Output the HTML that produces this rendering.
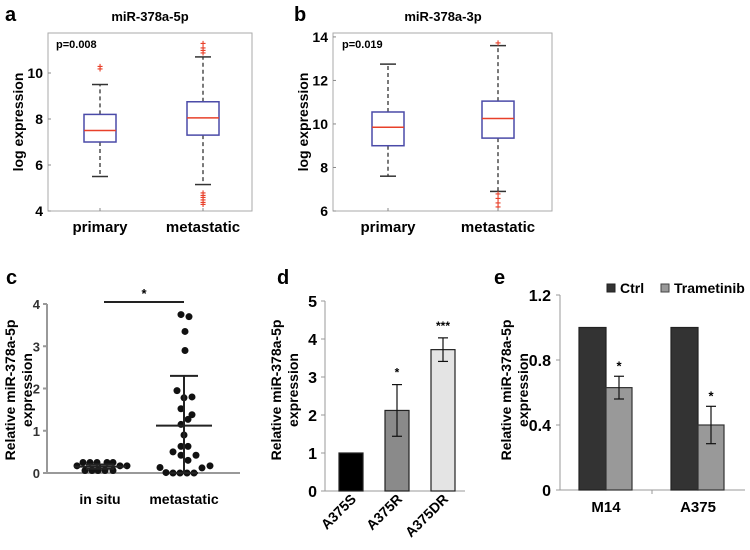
<!DOCTYPE html>
<html><head><meta charset="utf-8"><style>
body{margin:0;background:#fff;}
svg{display:block;font-family:"Liberation Sans",Arial,sans-serif;font-weight:bold;}
</style></head><body>
<svg id="fig" width="750" height="550" viewBox="0 0 750 550" xmlns="http://www.w3.org/2000/svg">
<g id="static">
<text x="5" y="21" font-size="20">a</text>
<text x="294" y="21" font-size="20">b</text>
<text x="6" y="284" font-size="20">c</text>
<text x="277" y="284" font-size="20">d</text>
<text x="494" y="284" font-size="20">e</text>
<text x="150" y="21" font-size="13" text-anchor="middle">miR-378a-5p</text>
<text x="443" y="21" font-size="13" text-anchor="middle">miR-378a-3p</text>
<text x="23" y="122" font-size="14" text-anchor="middle" transform="rotate(-90 23 122)">log expression</text>
<text x="308" y="122" font-size="14" text-anchor="middle" transform="rotate(-90 308 122)">log expression</text>
<text x="56" y="48" font-size="11">p=0.008</text>
<text x="342" y="48" font-size="11">p=0.019</text>
<g font-size="14" font-weight="normal" style="font-weight:bold">
<text transform="translate(15 390) rotate(-90)" text-anchor="middle"><tspan x="0" dy="0">Relative miR-378a-5p</tspan><tspan x="0" dy="17">expression</tspan></text>
<text transform="translate(281 390) rotate(-90)" text-anchor="middle"><tspan x="0" dy="0">Relative miR-378a-5p</tspan><tspan x="0" dy="17">expression</tspan></text>
<text transform="translate(511 390) rotate(-90)" text-anchor="middle"><tspan x="0" dy="0">Relative miR-378a-5p</tspan><tspan x="0" dy="17">expression</tspan></text>
</g>
<rect x="607" y="284" width="8" height="8" fill="#333" stroke="#222"/>
<text x="620" y="293" font-size="14">Ctrl</text>
<rect x="661" y="284" width="8" height="8" fill="#999" stroke="#444"/>
<text x="674" y="293" font-size="14">Trametinib</text>
</g>
<g id="dyn"></g>
</svg>
<script>
// Panel a data
const aCats = ["primary", "metastatic"];
const aWhiskLo = [5.5, 5.15];
const aQ1 = [7.0, 7.3];
const aMed = [7.5, 8.05];
const aQ3 = [8.2, 8.75];
const aWhiskHi = [9.5, 10.7];
const aOutliers = [[10.2, 10.3], [10.9, 11.0, 11.1, 11.3, 4.3, 4.4, 4.5, 4.6, 4.7, 4.8]];
const aTicks = [4, 6, 8, 10];
// Panel b data
const bCats = ["primary", "metastatic"];
const bWhiskLo = [7.6, 6.9];
const bQ1 = [9.0, 9.35];
const bMed = [9.85, 10.25];
const bQ3 = [10.55, 11.05];
const bWhiskHi = [12.75, 13.6];
const bOutliers = [[], [13.75, 6.2, 6.4, 6.6, 6.8]];
const bTicks = [6, 8, 10, 12, 14];
// Panel c data
const cCats = ["in situ", "metastatic"];
const cInSitu = [0.17, 0.25, 0.25, 0.25, 0.25, 0.25, 0.06, 0.06, 0.06, 0.06, 0.06, 0.17, 0.17];
const cInSituJitter = [-23, -17, -10, -3, 7, 13, -15, -8, -2, 5, 13, 20, 27];
const cMeta = [3.75, 3.7, 3.35, 2.9, 1.95, 1.78, 1.8, 1.52, 1.38, 1.27, 1.15, 0.9, 0.63, 0.63, 0.5, 0.42, 0.42, 0.3, 0.13, 0.17, 0.12, 0.01, 0.0, 0.0, 0.0, 0.0];
const cMetaJitter = [-3, 5, 1, 1, -7, 0, 8, -3, 8, 4, -3, 0, -3, 4, -11, -3, 12, 4, -24, 26, 18, -18, -11, -4, 3, 10];
const cMean = [0.15, 1.12];
const cSdHi = [0.2, 2.3];
const cSdLo = [0.1, 0.0];
const cTicks = [0, 1, 2, 3, 4];
// Panel d data
const dCats = ["A375S", "A375R", "A375DR"];
const dVals = [1, 2.12, 3.72];
const dErr = [0, 0.68, 0.31];
const dStars = ["", "*", "***"];
const dTicks = [0, 1, 2, 3, 4, 5];
// Panel e data
const eCats = ["M14", "A375"];
const eCtrl = [1, 1];
const eTram = [0.63, 0.40];
const eTramErr = [0.07, 0.115];
const eTicks = [0, 0.4, 0.8, 1.2];
const eTickLabels = ["0", "0.4", "0.8", "1.2"];

const NS = "http://www.w3.org/2000/svg";
const root = document.getElementById("dyn");
function mk(tag, attrs, txt) {
  const e = document.createElementNS(NS, tag);
  for (const k in attrs) e.setAttribute(k, attrs[k]);
  if (txt !== undefined) e.textContent = txt;
  root.appendChild(e);
  return e;
}
function lin(d0, d1, r0, r1) { return v => r0 + (v - d0) * (r1 - r0) / (d1 - d0); }

function boxPanel(p, L, R, T, B, yMin, yMax, xPos, cats, lo, q1, med, q3, hi, outs, ticks) {
  const y = lin(yMin, yMax, B, T);
  let e = mk("rect", {x: L, y: T, width: R - L, height: B - T, fill: "none", stroke: "#aaa", "stroke-width": 1});
  
  
  ticks.forEach(t => {
    let tl = mk("line", {x1: L, x2: L + 3, y1: y(t), y2: y(t), stroke: "#888"});
    
    
    let tt = mk("text", {x: L - 5, y: y(t) + 5, "font-size": 14, "text-anchor": "end"}, String(t));
    
    
  });
  cats.forEach((c, i) => {
    const x = xPos[i], hw = 16;
    let w1 = mk("line", {x1: x, x2: x, y1: y(q3), y2: y(hi), stroke: "#333", "stroke-width": 1.3, "stroke-dasharray": "4,3"});
    
    
    let w2 = mk("line", {x1: x, x2: x, y1: y(q1), y2: y(lo), stroke: "#333", "stroke-width": 1.3, "stroke-dasharray": "4,3"});
    
    
    [hi[i], lo[i]].forEach(v => {
      let cap = mk("line", {x1: x - 8, x2: x + 8, y1: y(v), y2: y(v), stroke: "#333", "stroke-width": 1.5});
      
      
    });
    w1.setAttribute("y1", y(q3[i])); w1.setAttribute("y2", y(hi[i]));
    w2.setAttribute("y1", y(q1[i])); w2.setAttribute("y2", y(lo[i]));
    let b = mk("rect", {x: x - hw, y: y(q3[i]), width: 2 * hw, height: y(q1[i]) - y(q3[i]), fill: "#fff", stroke: "#4a4aa8", "stroke-width": 1.5});
    
    
    let m = mk("line", {x1: x - hw, x2: x + hw, y1: y(med[i]), y2: y(med[i]), stroke: "#e8402a", "stroke-width": 1.5});
    
    
    outs[i].forEach(v => {
      let o = mk("text", {x: x, y: y(v) + 4, "font-size": 10, fill: "#e8402a", "text-anchor": "middle"}, "+");
      
      
    });
    let xt = mk("line", {x1: x, x2: x, y1: B, y2: B - 3, stroke: "#888"});
    
    
    let xl = mk("text", {x: x, y: B + 21, "font-size": 15, "text-anchor": "middle"}, c);
    
    
  });
}
boxPanel("panel-a", 48, 252, 33, 211, 4, 11.74, [100, 203], aCats, aWhiskLo, aQ1, aMed, aQ3, aWhiskHi, aOutliers, aTicks);
boxPanel("panel-b", 333, 552, 33, 211, 6, 14.18, [388, 498], bCats, bWhiskLo, bQ1, bMed, bQ3, bWhiskHi, bOutliers, bTicks);

// Panel c
(function () {
  const L = 47, R = 240, B = 473, y = lin(0, 4, 473, 304), xs = [100, 184];
  let a = mk("line", {x1: L, x2: L, y1: B, y2: y(4), stroke: "#999", "stroke-width": 2});
  
  
  let xa = mk("line", {x1: L, x2: R, y1: B, y2: B, stroke: "#999", "stroke-width": 2});
  
  
  cTicks.forEach(t => {
    let tl = mk("line", {x1: L - 4, x2: L, y1: y(t), y2: y(t), stroke: "#999", "stroke-width": 2});
    
    
    let tt = mk("text", {x: L - 7, y: y(t) + 5, "font-size": 13, "text-anchor": "end", fill: "#333"}, String(t));
    
    
  });
  const groups = [[cInSitu, cInSituJitter], [cMeta, cMetaJitter]];
  groups.forEach((g, i) => {
    g[0].forEach((v, j) => {
      let d = mk("circle", {cx: xs[i] + g[1][j], cy: y(v), r: 3.5, fill: "#111"});
      
      
    });
    const mw = i === 0 ? 26 : 28;
    let ml = mk("line", {x1: xs[i] - mw, x2: xs[i] + mw, y1: y(cMean[i]), y2: y(cMean[i]), stroke: "#222", "stroke-width": 2});
    
    
    let sd = mk("line", {x1: xs[i], x2: xs[i], y1: y(cSdLo[i]), y2: y(cSdHi[i]), stroke: "#222", "stroke-width": 2});
    
    
    [cSdLo[i], cSdHi[i]].forEach(v => {
      let c = mk("line", {x1: xs[i] - 14, x2: xs[i] + 14, y1: y(v), y2: y(v), stroke: "#222", "stroke-width": 2});
      
      
    });
    let xl = mk("text", {x: xs[i], y: 504, "font-size": 14, "text-anchor": "middle"}, cCats[i]);
    
    
  });
  let sig = mk("line", {x1: 104, x2: 184, y1: 302, y2: 302, stroke: "#222", "stroke-width": 2});
  
  
  let st = mk("text", {x: 144, y: 298, "font-size": 13, "text-anchor": "middle"}, "*");
  
  
})();

// Panel d
(function () {
  const L = 325, R = 465, B = 491, y = lin(0, 5, 491, 301), xs = [351, 397, 443], w = 24;
  const fills = ["#000", "#8a8a8a", "#e4e4e4"];
  let a = mk("line", {x1: L, x2: L, y1: B, y2: y(5), stroke: "#999", "stroke-width": 1});
  
  
  let xa = mk("line", {x1: L, x2: R, y1: B, y2: B, stroke: "#999", "stroke-width": 1});
  
  
  dTicks.forEach(t => {
    let tl = mk("line", {x1: L - 4, x2: L, y1: y(t), y2: y(t), stroke: "#999"});
    
    
    let tt = mk("text", {x: L - 8, y: y(t) + 6, "font-size": 16, "text-anchor": "end"}, String(t));
    
    
  });
  dCats.forEach((c, i) => {
    let b = mk("rect", {x: xs[i] - w / 2, y: y(dVals[i]), width: w, height: B - y(dVals[i]), fill: fills[i], stroke: "#222", "stroke-width": 1.2});
    
    
    if (dErr[i] > 0) {
      let e = mk("line", {x1: xs[i], x2: xs[i], y1: y(dVals[i] - dErr[i]), y2: y(dVals[i] + dErr[i]), stroke: "#111", "stroke-width": 1.2});
      
      
      [dVals[i] - dErr[i], dVals[i] + dErr[i]].forEach(v => {
        let cp = mk("line", {x1: xs[i] - 5, x2: xs[i] + 5, y1: y(v), y2: y(v), stroke: "#111", "stroke-width": 1.2});
        
        
      });
    }
    if (dStars[i]) {
      let s = mk("text", {x: xs[i], y: y(dVals[i] + dErr[i]) - 8, "font-size": 12, "text-anchor": "middle"}, dStars[i]);
      
      
    }
    let xl = mk("text", {x: xs[i] + 6, y: 500, "font-size": 14, "text-anchor": "end", transform: "rotate(-45 " + (xs[i] + 6) + " 500)"}, c);
    
    
  });
})();

// Panel e
(function () {
  const L = 560, R = 745, B = 490, y = lin(0, 1.2, 490, 295), xs = [606, 698], w = 27;
  let a = mk("line", {x1: L, x2: L, y1: B, y2: y(1.2), stroke: "#999"});
  
  
  let xa = mk("line", {x1: L, x2: R, y1: B, y2: B, stroke: "#999"});
  
  
  let mid = mk("line", {x1: 652, x2: 652, y1: B, y2: B + 4, stroke: "#999"});
  
  
  eTicks.forEach((t, k) => {
    let tl = mk("line", {x1: L - 4, x2: L, y1: y(t), y2: y(t), stroke: "#999"});
    
    
    let tt = mk("text", {x: L - 9, y: y(t) + 6, "font-size": 16, "text-anchor": "end"}, eTickLabels[k]);
    
    
  });
  eCats.forEach((c, i) => {
    let b1 = mk("rect", {x: xs[i] - w, y: y(eCtrl[i]), width: w, height: B - y(eCtrl[i]), fill: "#333", stroke: "#222", "stroke-width": 1.2});
    
    
    let b2 = mk("rect", {x: xs[i], y: y(eTram[i]), width: w - 1, height: B - y(eTram[i]), fill: "#999", stroke: "#333", "stroke-width": 1.2});
    
    
    const cx = xs[i] + w / 2 - 0.5;
    let e = mk("line", {x1: cx, x2: cx, y1: y(eTram[i] - eTramErr[i]), y2: y(eTram[i] + eTramErr[i]), stroke: "#111", "stroke-width": 1.2});
    
    
    [eTram[i] - eTramErr[i], eTram[i] + eTramErr[i]].forEach(v => {
      let cp = mk("line", {x1: cx - 5, x2: cx + 5, y1: y(v), y2: y(v), stroke: "#111", "stroke-width": 1.2});
      
      
    });
    let s = mk("text", {x: cx, y: y(eTram[i] + eTramErr[i]) - 6, "font-size": 13, "text-anchor": "middle"}, "*");
    
    
    let xl = mk("text", {x: xs[i], y: 512, "font-size": 15, "text-anchor": "middle"}, c);
    
    
  });
})();
</script>
</body></html>
